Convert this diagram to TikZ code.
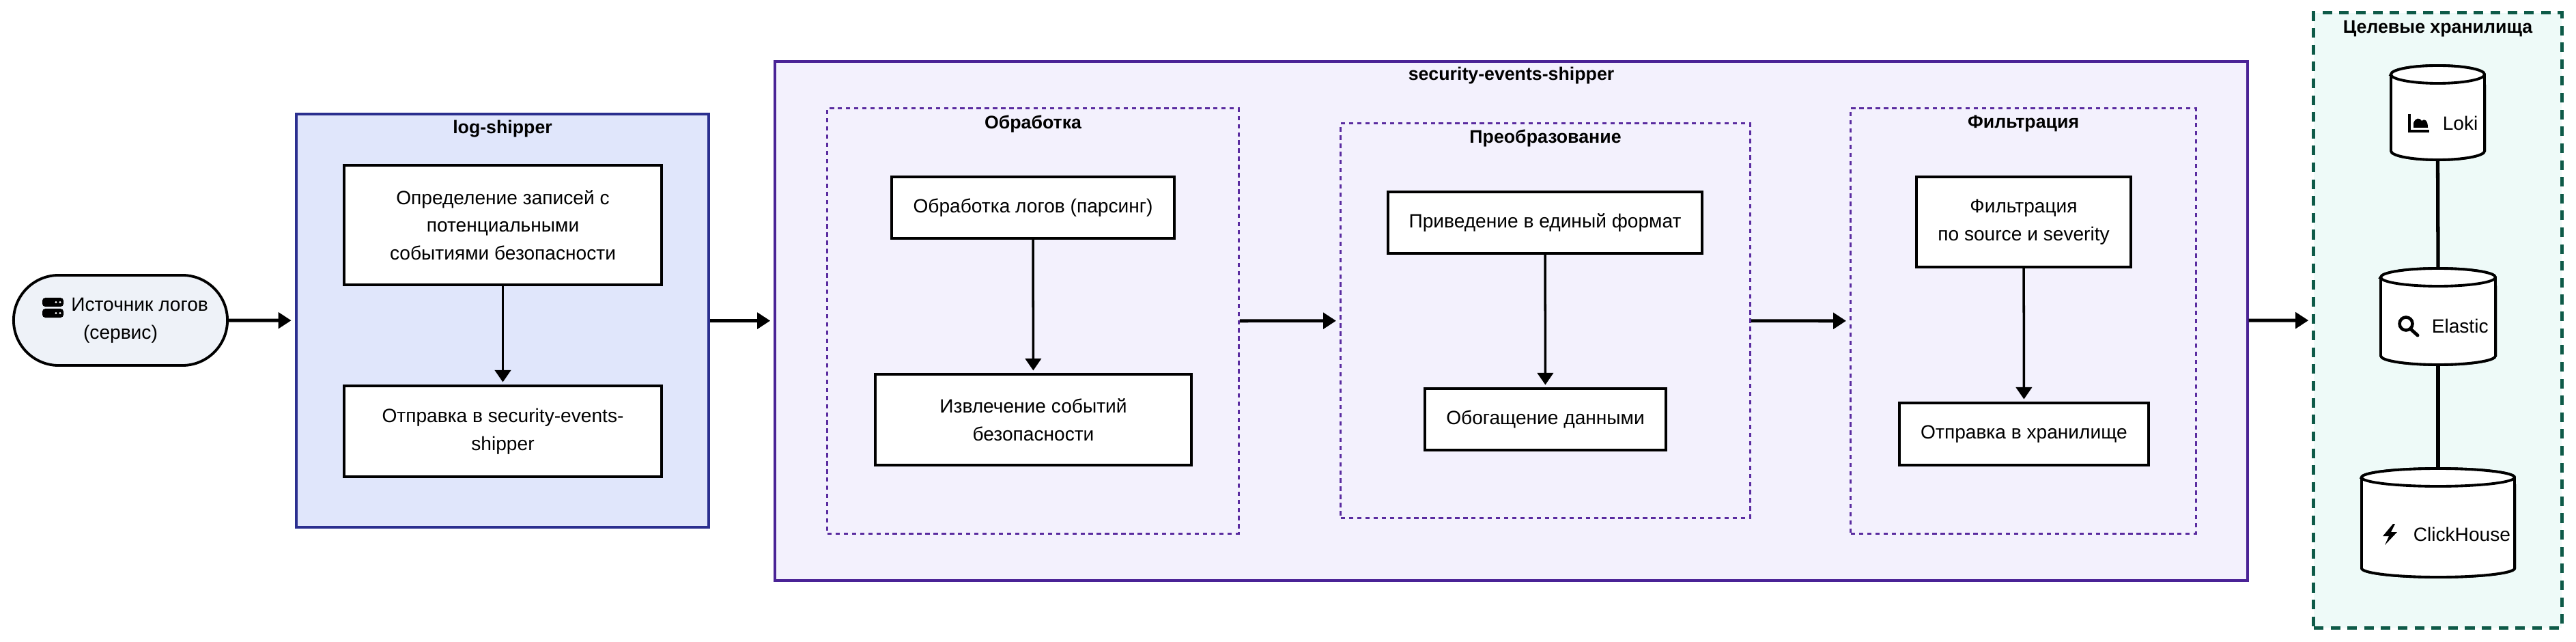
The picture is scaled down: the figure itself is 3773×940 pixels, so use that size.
\documentclass[tikz,border=0pt]{standalone}
\usepackage{fontspec}
\setmainfont{Liberation Sans}
\usetikzlibrary{arrows.meta}
\definecolor{lsfill}{HTML}{E0E6FB}
\definecolor{lsdraw}{HTML}{2B2F8F}
\definecolor{sesfill}{HTML}{F3F1FD}
\definecolor{sesdraw}{HTML}{4A2396}
\definecolor{grpdraw}{HTML}{5A2CA0}
\definecolor{stfill}{HTML}{EEFAF8}
\definecolor{stdraw}{HTML}{0E5A48}
\definecolor{srcfill}{HTML}{EEF2F8}
\newcommand{\dbcyl}[5]{%
  \pgfmathsetmacro\rxx{(#4-#2)/200}%
  \pgfmathsetmacro\cxx{(#2+#4)/2}%
  \node[inner sep=0pt, minimum width={(#4-#2)*0.01cm}, minimum height={(#5-#3)*0.01cm}] (#1) at (\cxx,{(#3+#5)/2}) {};
  \draw[line width=1.1pt, fill=white] (#2,#3+13) -- (#2,#5-13) arc[start angle=180, end angle=360, x radius=\rxx cm, y radius=0.13cm] -- (#4,#3+13) arc[start angle=0, end angle=180, x radius=\rxx cm, y radius=0.13cm] -- cycle;
  \draw[line width=1.1pt] (#4,#3+13) arc[start angle=0, end angle=-180, x radius=\rxx cm, y radius=0.13cm];
}
\begin{document}
\begin{tikzpicture}[x=0.01cm, y=-0.01cm,
  every node/.style={font=\fontsize{8}{11.6}\selectfont, text=black},
  box/.style={draw=black, line width=1.1pt, fill=white, align=center, inner sep=0pt},
  grp/.style={draw=grpdraw, line width=0.9pt, dash pattern=on 1.8pt off 1.6pt},
  ttl/.style={font=\fontsize{7.6}{9}\selectfont\bfseries},
  arr/.style={line width=1.4pt, -{Triangle[length=5.4pt,width=6.6pt]}, shorten >=1.5pt},
  varr/.style={line width=1pt, -{Triangle[length=5pt,width=6.6pt]}, shorten >=1pt},
  lnk/.style={line width=1.5pt}
]
\useasboundingbox (0,0) rectangle (3773,940);

% containers
\node[draw=lsdraw, fill=lsfill, line width=1.1pt, minimum width=6.04cm, minimum height=6.05cm] (ls) at (736,469.5) {};
\node[ttl] (lst) at (736,189) {log-shipper};
\node[draw=sesdraw, fill=sesfill, line width=1.1pt, minimum width=21.55cm, minimum height=7.6cm] (ses) at (2213.5,470) {};
\node[ttl] (sest) at (2213.5,111) {security-events-shipper};
\node[draw=stdraw, fill=stfill, line width=1.4pt, dash pattern=on 4pt off 3pt, minimum width=3.63cm, minimum height=9.0cm] (st) at (3570.5,469) {};
\node[ttl] (stt) at (3570.5,42) {Целевые хранилища};

\node[grp, minimum width=6.02cm, minimum height=6.22cm] (g1) at (1513,470) {};
\node[ttl] (g1t) at (1513,181) {Обработка};
\node[grp, minimum width=5.99cm, minimum height=5.77cm] (g2) at (2263.5,469.5) {};
\node[ttl] (g2t) at (2263.5,202) {Преобразование};
\node[grp, minimum width=5.05cm, minimum height=6.22cm] (g3) at (2963.5,470) {};
\node[ttl] (g3t) at (2963.5,181) {Фильтрация};

% source
\node[draw=black, fill=srcfill, line width=1.1pt, rounded corners=0.66cm, minimum width=3.13cm, minimum height=1.32cm, align=center, inner sep=0pt] (src) at (176.5,469) {\hspace*{16pt}Источник логов\\(сервис)};
\fill[black, rounded corners=1.2pt] (62,436) rectangle (93,449);
\fill[black, rounded corners=1.2pt] (62,452) rectangle (93,465);
\fill[white] (82,442.5) circle (1.6) (88,442.5) circle (1.6) (82,458.5) circle (1.6) (88,458.5) circle (1.6);

% log-shipper boxes
\node[box, minimum width=4.65cm, minimum height=1.75cm] (ls1) at (736.5,329.5) {Определение записей с\\потенциальными\\событиями безопасности};
\node[box, minimum width=4.65cm, minimum height=1.33cm] (ls2) at (736.5,631.5) {Отправка в security-events-\\shipper};

% processing
\node[box, minimum width=4.14cm, minimum height=0.9cm] (p1) at (1513,304) {Обработка логов (парсинг)};
\node[box, minimum width=4.63cm, minimum height=1.33cm] (p2) at (1513.5,614.5) {Извлечение событий\\безопасности};
\node[box, minimum width=4.6cm, minimum height=0.9cm] (t1) at (2263,326) {Приведение в единый формат};
\node[box, minimum width=3.53cm, minimum height=0.9cm] (t2) at (2263.5,614) {Обогащение данными};
\node[box, minimum width=3.14cm, minimum height=1.32cm] (f1) at (2964,325) {Фильтрация\\по source и severity};
\node[box, minimum width=3.65cm, minimum height=0.91cm] (f2) at (2964.5,635.5) {Отправка в хранилище};

% storages
\dbcyl{loki}{3502}{96}{3639}{234}
\dbcyl{elastic}{3487}{393}{3655}{534}
\dbcyl{ch}{3459}{686}{3683}{845}
\draw[lnk] (loki.south) -- (elastic.north);
\draw[lnk] (elastic.south) -- (ch.north);
\dbcyl{loki}{3502}{96}{3639}{234}
\dbcyl{elastic}{3487}{393}{3655}{534}
\dbcyl{ch}{3459}{686}{3683}{845}
\node[anchor=west, inner sep=0pt] (lokit) at (3577,180) {Loki};
\node[anchor=west, inner sep=0pt] (elt) at (3561,477) {Elastic};
\node[anchor=west, inner sep=0pt] (cht) at (3534,782) {ClickHouse};
% icons
\draw[line width=1.3pt] (3529,167) -- (3529,192) -- (3558,192);
\fill (3535,187) -- (3535,180) .. controls (3538,172) and (3544,172) .. (3547,177) .. controls (3551,173) and (3556,176) .. (3556,187) -- cycle;
\draw[line width=1.3pt] (3524,474) circle (0.095cm);
\draw[line width=1.4pt, line cap=round] (3531,482) -- (3541,491);
\fill (3505,767) -- (3490,785) -- (3499,785) -- (3493,798) -- (3511,779) -- (3502,779) -- (3508,767) -- cycle;

% connectors
\draw[arr] (src) -- (ls);
\draw[arr] (ls) -- (ses);
\draw[arr] (ses) -- (st);
\draw[arr] (g1) -- (g2);
\draw[arr] (g2) -- (g3);
\draw[varr] (ls1) -- (ls2);
\draw[varr] (p1) -- (p2);
\draw[varr] (t1) -- (t2);
\draw[varr] (f1) -- (f2);
\end{tikzpicture}
\end{document}
